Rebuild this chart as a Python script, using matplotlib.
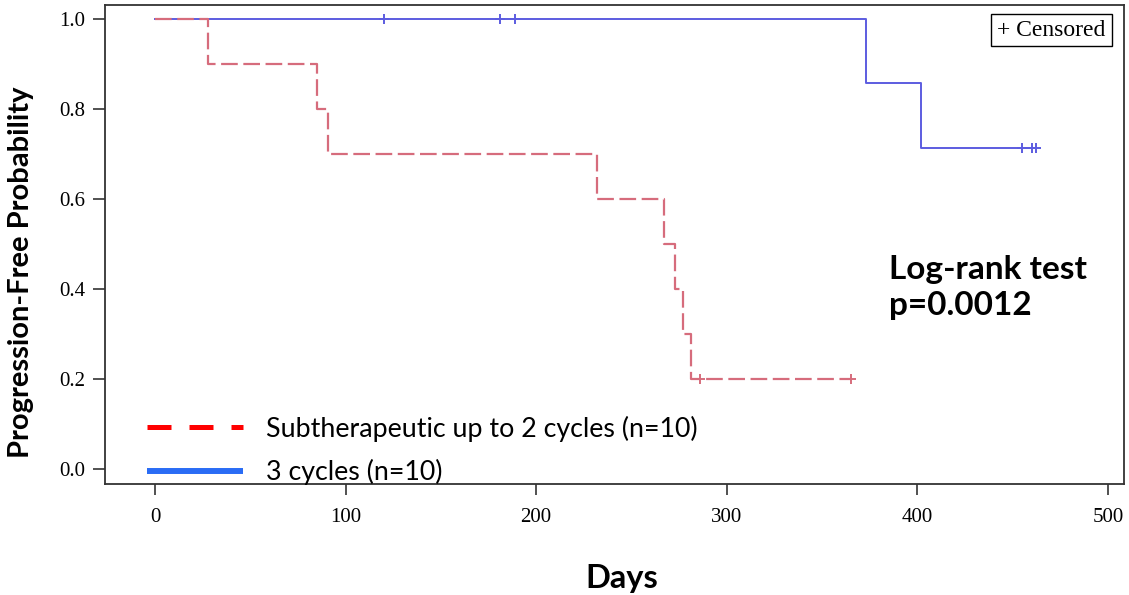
import matplotlib
matplotlib.use("Agg")
import matplotlib.pyplot as plt
from matplotlib.lines import Line2D
import numpy as np

# ---- data ----
# Subtherapeutic up to 2 cycles: step curve (time, survival after step)
sub_times = [0, 28, 85, 91, 232, 267, 273, 277, 281, 365]
sub_surv = [1.0, 0.9, 0.8, 0.7, 0.6, 0.5, 0.4, 0.3, 0.2, 0.2]
sub_cens_t = [286, 365]
sub_cens_s = [0.2, 0.2]

# 3 cycles
thr_times = [0, 373, 402, 462]
thr_surv = [1.0, 0.857, 0.714, 0.714]
thr_cens_t = [120, 181, 189, 455, 460, 462]
thr_cens_s = [1.0, 1.0, 1.0, 0.714, 0.714, 0.714]

x_ticks = [0, 100, 200, 300, 400, 500]
y_ticks = [0.0, 0.2, 0.4, 0.6, 0.8, 1.0]
labels = ["Subtherapeutic up to 2 cycles (n=10)", "3 cycles (n=10)"]

RED = "#d66c7c"
BLUE = "#5c5ce0"

fig = plt.figure(figsize=(11.29, 5.95), dpi=100)
ax = fig.add_axes([105/1129, 1-484/595, (1124-105)/1129, (484-5)/595])

ax.step(thr_times, thr_surv, where="post", color=BLUE, lw=1.4, zorder=2)
ax.plot(thr_cens_t, thr_cens_s, linestyle="none", marker="+", ms=7.5, mew=1.4,
        color=BLUE, zorder=3)
ax.step(sub_times, sub_surv, where="post", color=RED, lw=1.6,
        linestyle=(0, (7.5, 2.5)), zorder=4)
ax.plot(sub_cens_t, sub_cens_s, linestyle="none", marker="+", ms=7.5, mew=1.4,
        color=RED, zorder=5)

ax.set_xlim(-26.2, 508.4)
ax.set_ylim(-0.033, 1.031)
ax.set_xticks(x_ticks)
ax.set_yticks(y_ticks)
ax.set_xticklabels([str(v) for v in x_ticks], family="Liberation Serif", fontsize=15)
ax.set_yticklabels([f"{v:.1f}" for v in y_ticks], family="Liberation Serif", fontsize=15)
ax.tick_params(axis="x", direction="out", length=8, width=1.2, pad=9, color="#333333")
ax.tick_params(axis="y", direction="out", length=9, width=1.2, pad=5, color="#333333")
for s in ax.spines.values():
    s.set_color("#333333")
    s.set_linewidth(1.3)

ax.set_xlabel("Days", family="Lato", fontweight="bold", fontsize=23.5)
ax.xaxis.label.set_va("baseline")
ax.xaxis.set_label_coords((622-105)/1019, (484-588)/479)
ax.set_ylabel("Progression-Free Probability", family="Lato", fontweight="bold", fontsize=21)
ax.yaxis.label.set_va("center")
ax.yaxis.set_label_coords((21-105)/1019, (484-272)/479)

ax.text((889-105)/1019, (484-279)/479, "Log-rank test", transform=ax.transAxes,
        family="Lato", fontweight="bold", fontsize=24, va="baseline", ha="left")
ax.text((889-105)/1019, (484-315)/479, "p=0.0012", transform=ax.transAxes,
        family="Lato", fontweight="bold", fontsize=24, va="baseline", ha="left")

ax.text((1051.5-105)/1019, (484-30)/479, "+ Censored", transform=ax.transAxes,
        family="Liberation Serif", fontsize=17, ha="center", va="center",
        bbox=dict(boxstyle="square,pad=0.25", fc="white", ec="black", lw=1.0))

handles = [
    Line2D([], [], color="#ff0000", lw=3.6, linestyle=(0, (4.8, 3.6)), solid_capstyle="butt"),
    Line2D([], [], color="#2a6cf5", lw=4.3, solid_capstyle="butt"),
]
fs_leg = 19.3
leg = ax.legend(handles, labels, loc="lower left",
                bbox_to_anchor=((147-105)/1019, (484-485)/479),
                frameon=False, handlelength=69/fs_leg, handletextpad=16.6/fs_leg,
                labelspacing=0.64, borderpad=0, borderaxespad=0,
                prop={"family": "Lato", "size": fs_leg})

fig.savefig("out.png", dpi=100)
